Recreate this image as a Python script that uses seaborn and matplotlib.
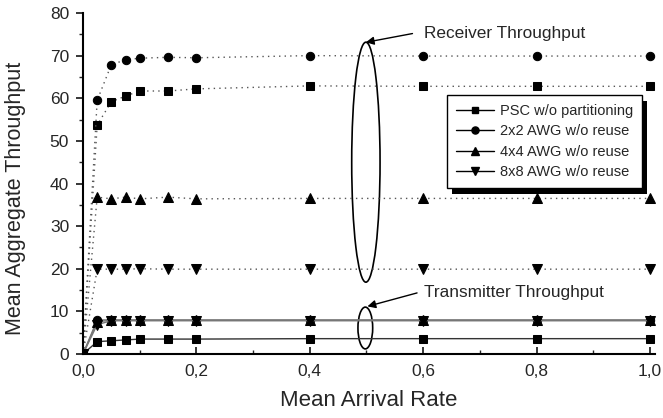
import numpy as np
import pandas as pd
import matplotlib
matplotlib.use("Agg")
import matplotlib.pyplot as plt
import seaborn as sns
from matplotlib.lines import Line2D
from matplotlib.patches import Ellipse, Rectangle
from matplotlib.transforms import IdentityTransform

# ---- data ----
arrival_rate = [0.0, 0.025, 0.05, 0.075, 0.1, 0.15, 0.2, 0.4, 0.6, 0.8, 1.0]

rx_psc = [0.0, 53.7, 59.2, 60.5, 61.7, 61.7, 62.2, 62.9, 62.8, 62.8, 62.8]
rx_2x2 = [0.0, 59.5, 67.9, 69.0, 69.4, 69.6, 69.5, 70.0, 69.9, 69.9, 69.9]
rx_4x4 = [0.0, 36.8, 36.4, 36.8, 36.4, 36.8, 36.4, 36.5, 36.5, 36.5, 36.5]
rx_8x8 = [0.0, 19.9, 19.9, 19.9, 20.0, 19.9, 19.9, 19.9, 19.9, 19.9, 19.9]

tx_psc = [0.0, 2.9, 3.1, 3.3, 3.5, 3.5, 3.5, 3.6, 3.6, 3.6, 3.6]
tx_2x2 = [0.0, 8.0, 8.0, 8.0, 8.0, 8.0, 8.0, 8.0, 8.0, 8.0, 8.0]
tx_4x4 = [0.0, 7.6, 7.9, 7.9, 7.9, 7.9, 7.9, 7.9, 7.9, 7.9, 7.9]
tx_8x8 = [0.0, 6.9, 7.8, 7.8, 7.8, 7.8, 7.8, 7.8, 7.8, 7.8, 7.8]

series_names = ["PSC w/o partitioning", "2x2 AWG w/o reuse",
                "4x4 AWG w/o reuse", "8x8 AWG w/o reuse"]
xtick_values = [0.0, 0.2, 0.4, 0.6, 0.8, 1.0]
xtick_labels = ["0,0", "0,2", "0,4", "0,6", "0,8", "1,0"]
ytick_values = [0, 10, 20, 30, 40, 50, 60, 70, 80]

# ---- style ----
sns.set_style("ticks")
plt.rcParams["font.family"] = ["Liberation Sans", "DejaVu Sans"]

fig = plt.figure(figsize=(6.63, 4.18), dpi=100)
ax = fig.add_axes([83 / 663, 1 - 354 / 418, 572 / 663, (354 - 13) / 418])

markers = ["s", "o", "^", "v"]
msizes = [5.2, 6.0, 6.6, 6.6]
rx_all = [rx_psc, rx_2x2, rx_4x4, rx_8x8]
tx_all = [tx_psc, tx_2x2, tx_4x4, tx_8x8]

for name, vals, mk, ms in zip(series_names, rx_all, markers, msizes):
    df = pd.DataFrame({"x": arrival_rate, "y": vals})
    sns.lineplot(data=df, x="x", y="y", ax=ax, sort=False, estimator=None,
                 color="#555555", linestyle=(0, (1, 3)), linewidth=1.0,
                 marker=mk, markersize=ms, markerfacecolor="black",
                 markeredgecolor="black", legend=False)

tx_colors = ["#333333", "#777777", "#777777", "#777777"]
for name, vals, mk, ms, c in zip(series_names, tx_all, markers, msizes, tx_colors):
    df = pd.DataFrame({"x": arrival_rate, "y": vals})
    sns.lineplot(data=df, x="x", y="y", ax=ax, sort=False, estimator=None,
                 color=c, linestyle="-", linewidth=1.0,
                 marker=mk, markersize=ms, markerfacecolor="black",
                 markeredgecolor="black", legend=False)

# ---- axes ----
ax.set_xlim(0, 1.009)
ax.set_ylim(0, 80)
ax.set_xticks(xtick_values)
ax.set_xticklabels(xtick_labels)
ax.set_xticks([0.1, 0.3, 0.5, 0.7, 0.9], minor=True)
ax.set_yticks(ytick_values)
ax.set_yticklabels([str(v) for v in ytick_values])
ax.set_yticks([5, 15, 25, 35, 45, 55, 65, 75], minor=True)
ax.tick_params(axis="x", which="major", direction="in", length=5, width=1.3,
               labelsize=12.5, pad=7)
ax.tick_params(axis="x", which="minor", direction="in", length=3, width=1.0)
ax.tick_params(axis="y", which="major", direction="out", length=5, width=1.3,
               labelsize=12.5, pad=5)
ax.tick_params(axis="y", which="minor", direction="out", length=3, width=1.0)
for s in ["top", "right"]:
    ax.spines[s].set_visible(False)
for s in ["left", "bottom"]:
    ax.spines[s].set_linewidth(1.5)
    ax.spines[s].set_color("black")

ax.set_xlabel("Mean Arrival Rate", fontsize=16, labelpad=8)
ax.set_ylabel("Mean Aggregate Throughput", fontsize=15.5)
ax.yaxis.set_label_coords(-0.10, 0.457)

# ---- annotations ----
ax.add_patch(Ellipse((0.499, 45.0), 0.05, 56.3, fill=False, edgecolor="black", lw=1.2))
ax.add_patch(Ellipse((0.498, 6.1), 0.026, 9.8, fill=False, edgecolor="black", lw=1.2))
ax.annotate("", xy=(0.494, 73.0), xytext=(0.586, 75.3),
            arrowprops=dict(arrowstyle="-|>", color="black", lw=1.0, mutation_scale=12))
ax.annotate("", xy=(0.497, 11.0), xytext=(0.594, 14.5),
            arrowprops=dict(arrowstyle="-|>", color="black", lw=1.0, mutation_scale=12))
ax.text(0.601, 75.3, "Receiver Throughput", fontsize=12.4, va="center", ha="left")
ax.text(0.601, 14.4, "Transmitter Throughput", fontsize=12.4, va="center", ha="left")

# ---- legend ----
handles = [Line2D([0], [0], color="black", lw=1.0, marker=mk, markersize=ms * 0.85,
                  markerfacecolor="black", markeredgecolor="black")
           for mk, ms in zip(markers, msizes)]
leg = ax.legend(handles, series_names, loc="upper left",
                bbox_to_anchor=(447 / 663, 1 - 95 / 418), bbox_transform=fig.transFigure,
                fontsize=10.5, frameon=True, fancybox=False, shadow=False,
                edgecolor="black", framealpha=1, handlelength=2.6, handletextpad=0.4,
                labelspacing=0.45, borderpad=0.6, borderaxespad=0)
leg.get_frame().set_linewidth(1.0)
leg.set_zorder(6)

fig.canvas.draw()
bb = leg.get_window_extent()
shadow = Rectangle((bb.x0 + 5, bb.y0 - 6), bb.width, bb.height, facecolor="black",
                   edgecolor="none", transform=IdentityTransform(), zorder=5.9,
                   clip_on=False)
ax.add_patch(shadow)

fig.savefig("out.png", dpi=100)
